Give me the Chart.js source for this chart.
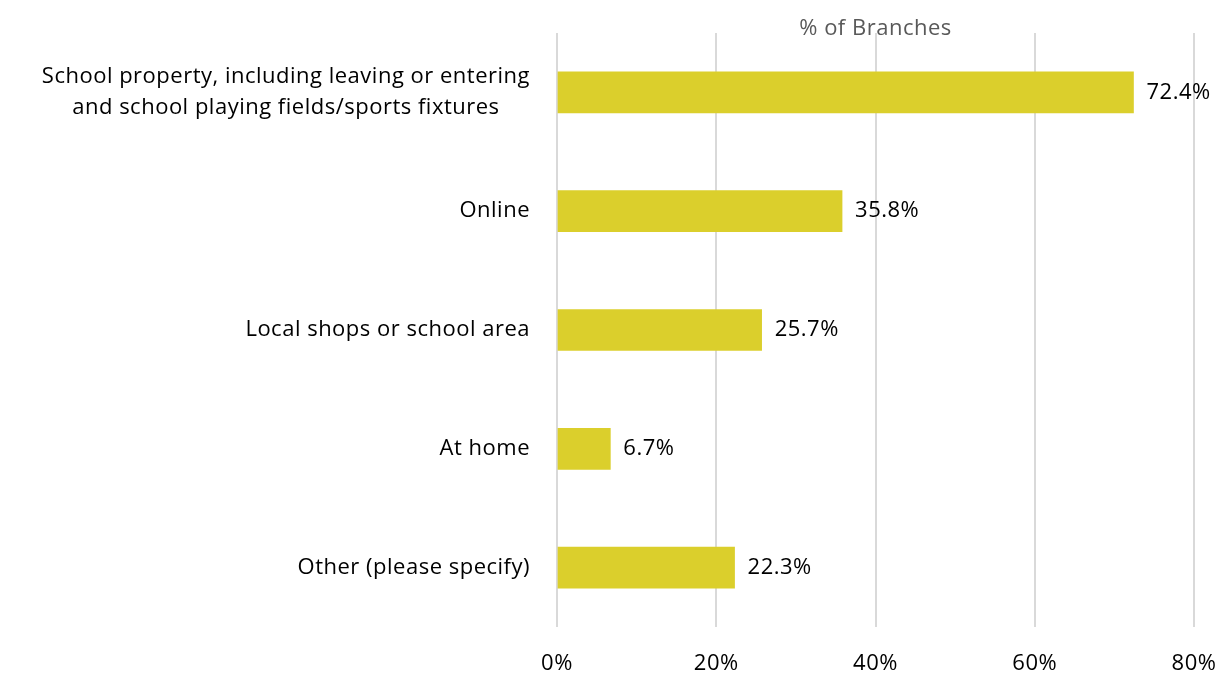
<!DOCTYPE html>
<html>
<head>
<meta charset="utf-8">
<script src="https://cdn.jsdelivr.net/npm/chart.js@4/dist/chart.umd.min.js"></script>
<style>
  html, body { margin: 0; padding: 0; background: #ffffff; }
  #wrap { width: 1222px; height: 673px; position: relative; }
</style>
</head>
<body>
<div id="wrap"><canvas id="chart"></canvas></div>
<script>
// Where incidents happened, share of branches reporting each location
const categories = [
  ["School property, including leaving or entering", "and school playing fields/sports fixtures"],
  "Online",
  "Local shops or school area",
  "At home",
  "Other (please specify)"
];
const shares = [72.4, 35.8, 25.7, 6.7, 22.3];
const tickValues = [0, 20, 40, 60, 80];
const axisTitle = "% of Branches";

const FONT = "'Open Sans', sans-serif";
const BAR = "#DBCF2C";
const GRID = "#D9D9D9";
const TRACKING = "0.5px";

// Drop the extra room Chart.js reserves for overhanging tick labels,
// so the plot area is set only by the axis boxes and layout padding
function noOverhang(scale) {
  scale.paddingTop = 0;
  scale.paddingBottom = 0;
  scale.paddingLeft = 0;
  scale.paddingRight = 0;
}

// Slightly open letter spacing for all chart text
const tracking = {
  id: "tracking",
  beforeDraw(chart) {
    chart.ctx.letterSpacing = TRACKING;
  }
};

// Value labels just past the end of each bar
const valueLabels = {
  id: "valueLabels",
  afterDatasetsDraw(chart) {
    const ctx = chart.ctx;
    const meta = chart.getDatasetMeta(0);
    ctx.save();
    ctx.letterSpacing = TRACKING;
    ctx.font = "22px " + FONT;
    ctx.fillStyle = "#000000";
    ctx.textAlign = "left";
    ctx.textBaseline = "middle";
    meta.data.forEach((bar, i) => {
      ctx.fillText(shares[i].toFixed(1) + "%", bar.x + 13, bar.y);
    });
    ctx.restore();
  }
};

// Multi-line category labels: centre the lines within their own block,
// keeping the block right-aligned against the axis
const centredMultiline = {
  id: "centredMultiline",
  beforeDraw(chart) {
    const scale = chart.scales.y;
    const items = scale.getLabelItems();
    const ctx = chart.ctx;
    items.forEach(item => {
      if (Array.isArray(item.label) && item.options.textAlign !== "center") {
        ctx.save();
        ctx.letterSpacing = TRACKING;
        ctx.font = item.font.string;
        const w = Math.max(...item.label.map(l => ctx.measureText(l).width));
        ctx.restore();
        item.options.textAlign = "center";
        item.options.translation[0] -= w / 2;
      }
    });
  }
};

new Chart(document.getElementById("chart"), {
  type: "bar",
  data: {
    labels: categories,
    datasets: [{
      data: shares,
      backgroundColor: BAR,
      borderWidth: 0,
      barThickness: 41
    }]
  },
  options: {
    indexAxis: "y",
    responsive: true,
    maintainAspectRatio: false,
    animation: false,
    layout: { padding: { left: 0, right: 28, top: 0, bottom: 0 } },
    plugins: {
      legend: { display: false },
      tooltip: { enabled: false }
    },
    scales: {
      x: {
        type: "linear",
        position: "bottom",
        min: 0,
        max: 80,
        afterBuildTicks(scale) {
          scale.ticks = tickValues.map(v => ({ value: v }));
        },
        ticks: {
          callback: v => v + "%",
          color: "#000000",
          font: { family: FONT, size: 22 },
          padding: 24,
          maxRotation: 0
        },
        grid: { color: GRID, lineWidth: 2, drawTicks: false },
        border: { display: false },
        afterFit(scale) { scale.height = 46; noOverhang(scale); }
      },
      xTop: {
        type: "linear",
        position: "top",
        min: 0,
        max: 80,
        ticks: { display: false },
        grid: { display: false, drawTicks: false },
        border: { display: false },
        title: {
          display: true,
          text: axisTitle,
          color: "#595959",
          font: { family: FONT, size: 22 },
          padding: { top: 16, bottom: 0 }
        },
        afterFit(scale) { scale.height = 33; noOverhang(scale); }
      },
      y: {
        ticks: {
          color: "#000000",
          font: { family: FONT, size: 22, lineHeight: 1.4 },
          padding: 27
        },
        grid: { display: false, drawTicks: false },
        border: { display: false },
        afterFit(scale) { scale.width = 557; noOverhang(scale); }
      }
    }
  },
  plugins: [tracking, valueLabels, centredMultiline]
});
</script>
</body>
</html>
